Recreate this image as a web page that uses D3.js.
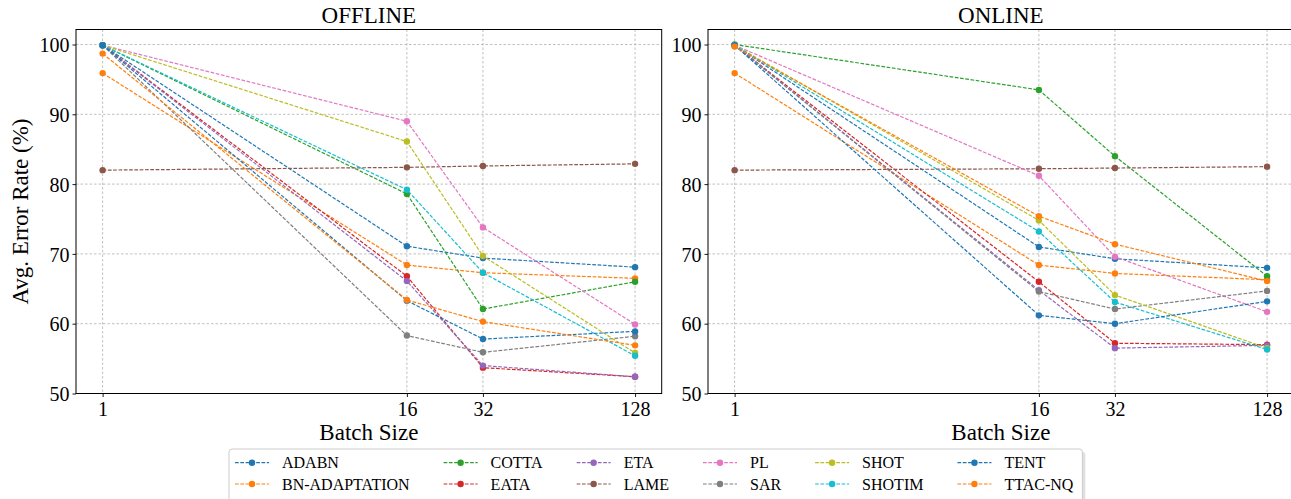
<!DOCTYPE html>
<html>
<head>
<meta charset="utf-8">
<script src="https://cdn.jsdelivr.net/npm/d3@7"></script>
<style>
  body { margin: 0; background: #fff; }
  svg { display: block; font-family: "Liberation Serif", "DejaVu Serif", serif; }
</style>
</head>
<body>
<svg id="chart" width="1291" height="499"></svg>
<script>
const width = 1291, height = 499;

// data
const batchSizes = [1, 16, 32, 128];
const yTicks = [50, 60, 70, 80, 90, 100];
const methods = ["ADABN", "BN-ADAPTATION", "COTTA", "EATA", "ETA", "LAME",
                 "PL", "SAR", "SHOT", "SHOTIM", "TENT", "TTAC-NQ"];
const colors = ["#1f77b4", "#ff7f0e", "#2ca02c", "#d62728", "#9467bd", "#8c564b",
                "#e377c2", "#7f7f7f", "#bcbd22", "#17becf", "#1f77b4", "#ff7f0e"];

const offlineErrors = [
  [99.9, 71.1, 69.4, 68.1],   // ADABN
  [95.9, 68.4, 67.3, 66.5],   // BN-ADAPTATION
  [99.9, 78.6, 62.1, 66.0],   // COTTA
  [99.9, 66.8, 53.7, 52.4],   // EATA
  [99.9, 66.1, 54.0, 52.4],   // ETA
  [82.0, 82.4, 82.6, 82.9],   // LAME
  [99.9, 89.0, 73.8, 59.9],   // PL
  [99.9, 58.3, 55.9, 58.2],   // SAR
  [99.9, 86.1, 69.7, 55.8],   // SHOT
  [99.9, 79.2, 67.3, 55.4],   // SHOTIM
  [99.9, 63.3, 57.8, 58.9],   // TENT
  [98.7, 63.4, 60.3, 56.9]    // TTAC-NQ
];

const onlineErrors = [
  [99.9, 71.0, 69.3, 68.0],
  [95.9, 68.4, 67.2, 66.3],
  [100.0, 93.5, 84.0, 66.8],
  [99.9, 66.0, 57.2, 57.0],
  [99.9, 64.8, 56.5, 56.9],
  [82.0, 82.2, 82.3, 82.5],
  [99.9, 81.2, 69.6, 61.7],
  [99.9, 64.6, 62.1, 64.7],
  [99.9, 74.8, 64.1, 56.5],
  [99.9, 73.2, 63.1, 56.3],
  [99.9, 61.2, 60.0, 63.2],
  [99.7, 75.4, 71.4, 66.1]
];

const panels = [
  {title: "OFFLINE", data: offlineErrors, left: 76},
  {title: "ONLINE", data: onlineErrors, left: 708}
];

const svg = d3.select("#chart");
const plotW = 585.7, plotTop = 29.5, plotBottom = 393.5;

// x is log2 with matplotlib-like 5% margins
const lo = Math.log2(1), hi = Math.log2(128), pad = (hi - lo) * 0.05;
const y = d3.scaleLinear().domain([50, 102.15]).range([plotBottom, plotTop]);

panels.forEach((p, pi) => {
  const x = d3.scaleLog().base(2)
    .domain([Math.pow(2, lo - pad), Math.pow(2, hi + pad)])
    .range([p.left, p.left + plotW]);

  const g = svg.append("g");

  // grid
  g.append("g").selectAll("line").data(batchSizes).join("line")
    .attr("x1", d => x(d)).attr("x2", d => x(d))
    .attr("y1", plotTop).attr("y2", plotBottom)
    .attr("stroke", "#b0b0b0").attr("stroke-width", 0.8).attr("stroke-dasharray", "2.5,2");
  g.append("g").selectAll("line").data(yTicks).join("line")
    .attr("x1", p.left).attr("x2", p.left + plotW)
    .attr("y1", d => y(d)).attr("y2", d => y(d))
    .attr("stroke", "#b0b0b0").attr("stroke-width", 0.8).attr("stroke-dasharray", "2.5,2");

  // axes
  const xAxis = g.append("g").attr("transform", `translate(0,${plotBottom})`)
    .call(d3.axisBottom(x).tickValues(batchSizes).tickFormat(d3.format("d")).tickSize(3.5).tickPadding(3));
  const yAxis = g.append("g").attr("transform", `translate(${p.left},0)`)
    .call(d3.axisLeft(y).tickValues(yTicks).tickSize(3.5).tickPadding(3));
  [xAxis, yAxis].forEach(a => {
    a.select(".domain").remove();
    a.selectAll("line").attr("stroke", "#000").attr("stroke-width", 0.9);
    a.selectAll("text").attr("font-family", "Liberation Serif").attr("font-size", 20).attr("fill", "#000");
  });
  xAxis.selectAll("text").attr("dy", "0.78em");
  yAxis.selectAll("text").attr("dy", "0.36em");

  // series
  const line = d3.line().x((d, i) => x(batchSizes[i])).y(d => y(d));
  p.data.forEach((vals, si) => {
    const s = g.append("g");
    s.append("path").attr("d", line(vals))
      .attr("fill", "none").attr("stroke", colors[si])
      .attr("stroke-width", 1.2).attr("stroke-dasharray", "3.7,1.6");
    s.selectAll("circle").data(vals).join("circle")
      .attr("cx", (d, i) => x(batchSizes[i])).attr("cy", d => y(d))
      .attr("r", 3.2).attr("fill", colors[si]);
  });

  // frame (right plot runs off the canvas edge)
  g.append("rect").attr("x", p.left).attr("y", plotTop)
    .attr("width", plotW).attr("height", plotBottom - plotTop)
    .attr("fill", "none").attr("stroke", "#000").attr("stroke-width", 1);

  g.append("text").attr("x", p.left + plotW / 2).attr("y", 22.5)
    .attr("text-anchor", "middle").attr("font-size", 23).text(p.title);
  g.append("text").attr("x", p.left + plotW / 2).attr("y", 440)
    .attr("text-anchor", "middle").attr("font-size", 23).text("Batch Size");
});

svg.append("text")
  .attr("transform", `translate(28,${(plotTop + plotBottom) / 2}) rotate(-90)`)
  .attr("text-anchor", "middle").attr("font-size", 23)
  .text("Avg. Error Rate (%)");

// legend: 6 columns x 2 rows, column-major fill like matplotlib
const legendLeft = 229, legendTop = 449, rowY = [462.7, 484];
const handleLen = 34, textPad = 13, colGap = 34, innerPad = 6;
const leg = svg.append("g");
const shadow = leg.append("rect");
const box = leg.append("rect");
const items = leg.append("g");

let cx = legendLeft + innerPad;
for (let c = 0; c < methods.length / 2; c++) {
  let maxW = 0;
  for (let r = 0; r < 2; r++) {
    const k = c * 2 + r;
    const it = items.append("g");
    it.append("line").attr("x1", cx).attr("x2", cx + handleLen)
      .attr("y1", rowY[r]).attr("y2", rowY[r])
      .attr("stroke", colors[k]).attr("stroke-width", 1.2).attr("stroke-dasharray", "3.7,1.6");
    it.append("circle").attr("cx", cx + handleLen / 2).attr("cy", rowY[r]).attr("r", 3.2).attr("fill", colors[k]);
    const t = it.append("text").attr("x", cx + handleLen + textPad).attr("y", rowY[r])
      .attr("dy", "0.35em").attr("font-size", 16).text(methods[k]);
    maxW = Math.max(maxW, t.node().getComputedTextLength());
  }
  cx += handleLen + textPad + maxW + colGap;
}
const legendRight = cx - colGap + 9;
box.attr("x", legendLeft).attr("y", legendTop)
  .attr("width", legendRight - legendLeft).attr("height", 60)
  .attr("rx", 3).attr("fill", "#fff").attr("stroke", "#cccccc").attr("stroke-width", 1);
shadow.attr("x", legendLeft + 3).attr("y", legendTop + 3)
  .attr("width", legendRight - legendLeft).attr("height", 60)
  .attr("rx", 3).attr("fill", "#e0e0e0");
</script>
</body>
</html>
